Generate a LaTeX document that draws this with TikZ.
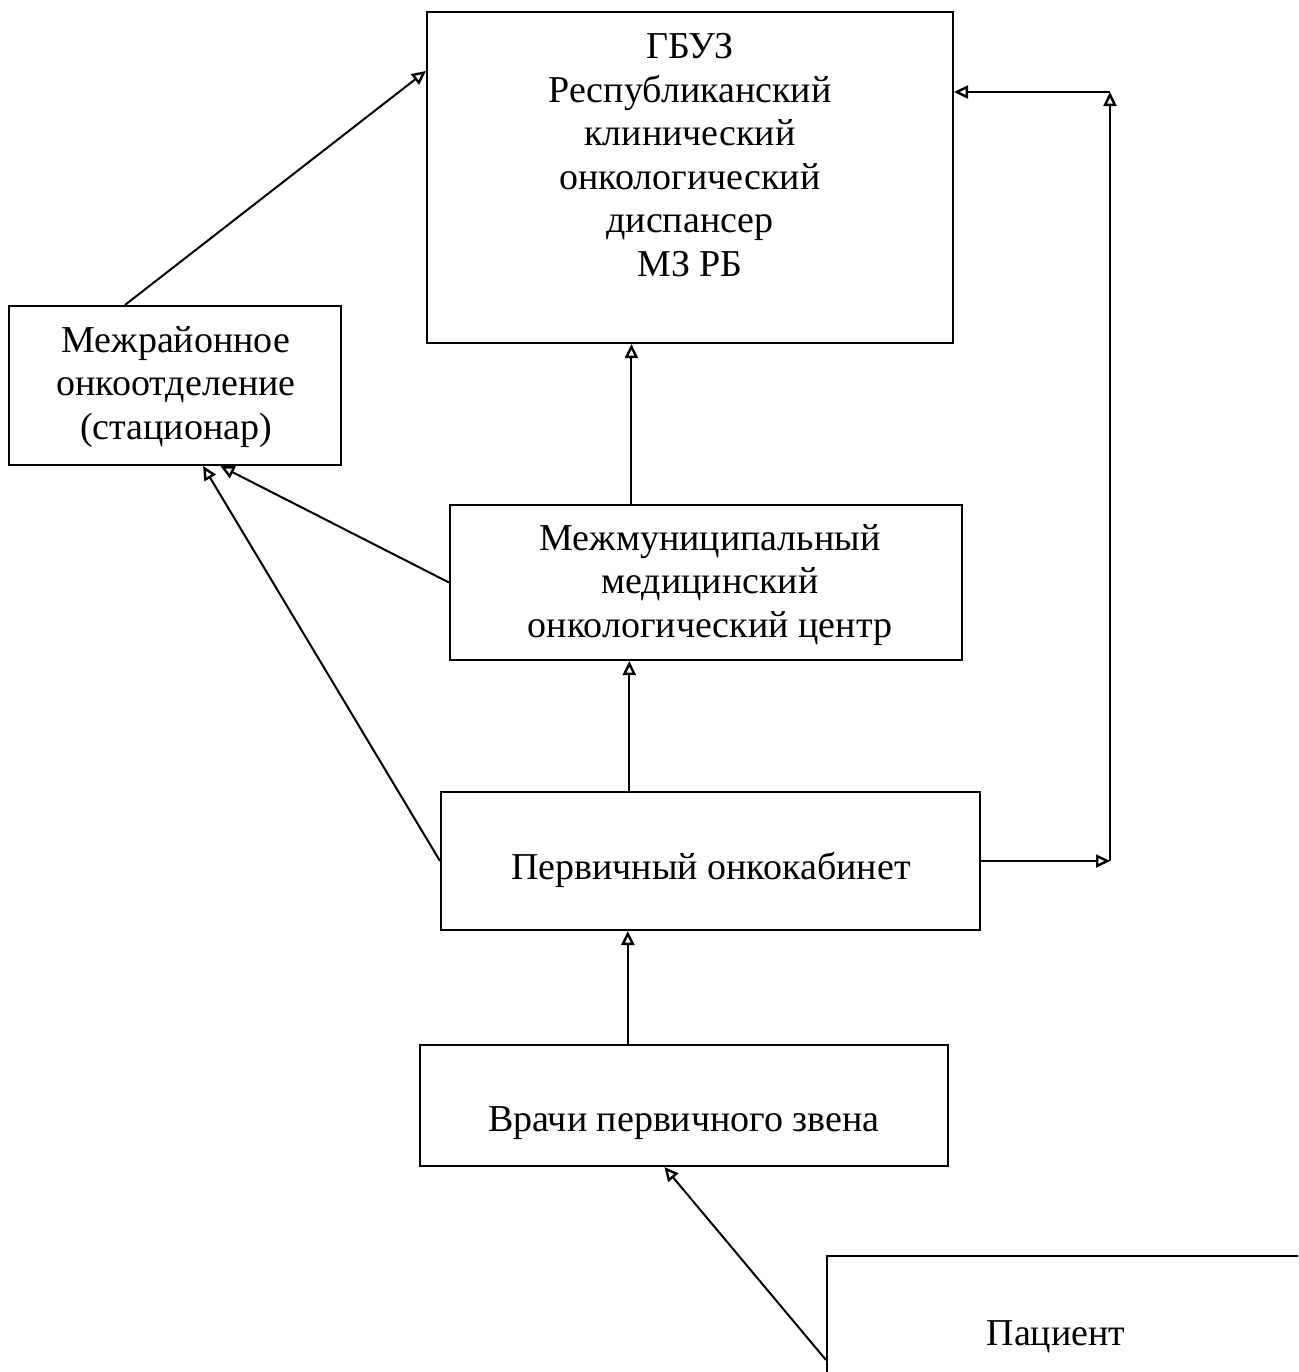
\documentclass[tikz,border=0pt]{standalone}
\usepackage{fontspec}
\setmainfont{Liberation Serif}
\usepackage{tikz}
\usetikzlibrary{arrows.meta,calc}

\tikzset{
  box/.style={draw, line width=1pt, inner sep=0pt},
  txt/.style={align=center, font=\fontsize{19}{21.75}\selectfont},
}

\begin{document}
\begin{tikzpicture}[x=0.5pt, y=-0.5pt, line width=1pt, >={Triangle[open,length=7pt,width=6.5pt,line width=1.2pt]}]
  \useasboundingbox (0,0) rectangle (1298,1372);
  \clip (0,0) rectangle (1298,1372);
  % boxes
  \node[box, minimum width=263pt, minimum height=165.5pt] (gbuz) at (690,177.5) {};
  \node[box, minimum width=166pt, minimum height=79.5pt] (mezhraion) at (175,385.5) {};
  \node[box, minimum width=256pt, minimum height=77.5pt] (mezhmun) at (706,582.5) {};
  \node[box, minimum width=269.5pt, minimum height=69pt] (perv) at (710.5,861) {};
  \node[box, minimum width=264pt, minimum height=60.5pt] (vrachi) at (684,1105.5) {};
  \node[box, minimum width=276.5pt, minimum height=104pt] (pacient) at (1103.5,1360) {};
  % texts
  \node[txt] (gbuz-t) at (690,155) {ГБУЗ\\Республиканский\\клинический\\онкологический\\диспансер\\МЗ РБ};
  \node[txt] (mezhraion-t) at (176,387) {Межрайонное\\онкоотделение\\(стационар)};
  \node[txt] (mezhmun-t) at (710,585) {Межмуниципальный\\медицинский\\онкологический центр};
  \node[txt] (perv-t) at (711,870) {Первичный онкокабинет};
  \node[txt] (vrachi-t) at (684,1123) {Врачи первичного звена};
  \node[txt] (pacient-t) at (1056,1337) {Пациент};
  % connectors
  \coordinate (mr-top) at ($(mezhraion.north west)!0.35!(mezhraion.north east)$);
  \coordinate (gb-left) at ($(gbuz.north west)!0.18!(gbuz.south west)$);
  \coordinate (mm-top) at ($(mezhmun.north west)!0.355!(mezhmun.north east)$);
  \coordinate (mr-bot1) at ($(mezhraion.south west)!0.584!(mezhraion.south east)$);
  \coordinate (mr-bot2) at ($(mezhraion.south west)!0.636!(mezhraion.south east)$);
  \coordinate (pv-top) at ($(perv.north west)!0.35!(perv.north east)$);
  \coordinate (vr-top) at ($(vrachi.north west)!0.394!(vrachi.north east)$);
  \coordinate (vr-bot) at ($(vrachi.south west)!0.463!(vrachi.south east)$);
  \coordinate (loop-bot) at (1110,861);
  \coordinate (loop-top) at (1110,92);
  \draw[->] (mr-top) -- (gb-left);
  \draw[->] (mm-top) -- (mm-top |- gbuz.south);
  \draw[->] (mezhmun.west) -- (mr-bot2);
  \draw[->] (perv.west) -- (mr-bot1);
  \draw[->] (pv-top) -- (pv-top |- mezhmun.south);
  \draw[->] (perv.east) -- (loop-bot);
  \draw[->] (loop-bot) -- (loop-top);
  \draw[->] (loop-top) -- (loop-top -| gbuz.east);
  \draw[->] (vr-top) -- (vr-top |- perv.south);
  \draw[->] (pacient.west) -- (vr-bot);
\end{tikzpicture}
\end{document}
